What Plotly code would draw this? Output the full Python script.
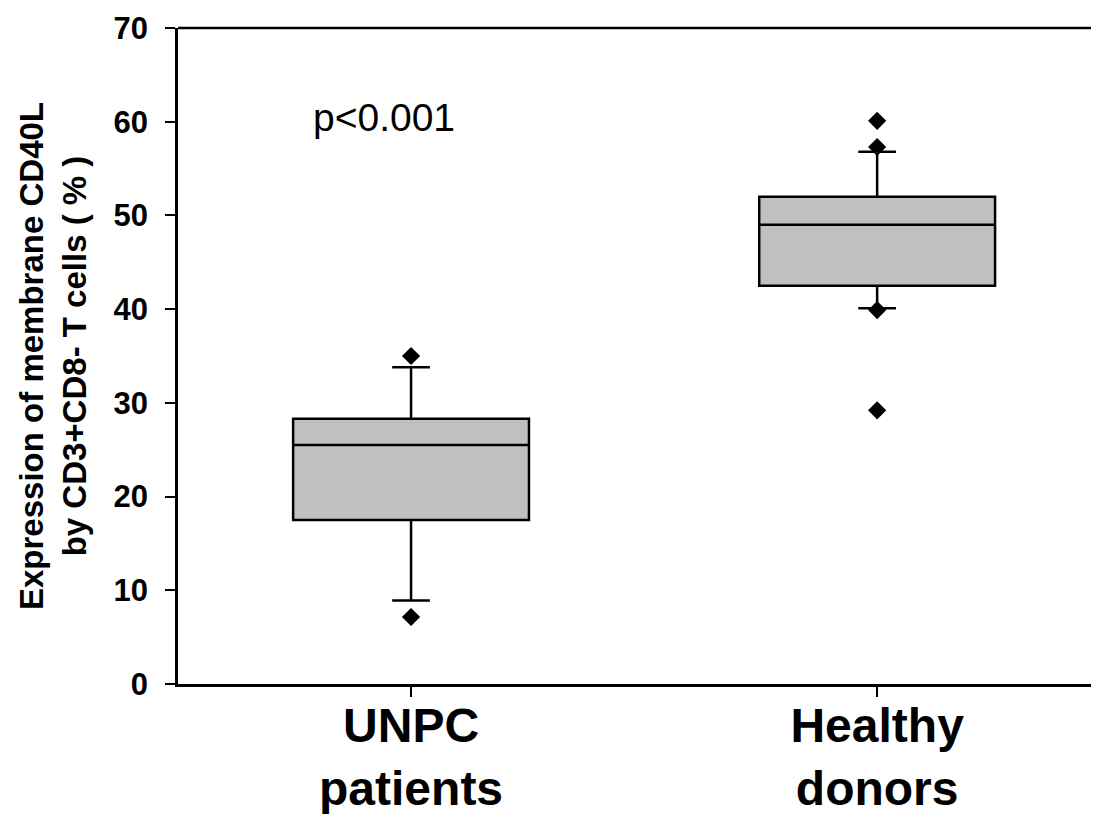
import plotly.graph_objects as go

# Data
groups = ["UNPC<br>patients", "Healthy<br>donors"]
group_pos = [1, 2]
q1 = [17.5, 42.5]
median = [25.5, 49.0]
q3 = [28.3, 52.0]
lowerfence = [8.9, 40.1]
upperfence = [33.8, 56.8]
outlier_x = [1, 1, 2, 2, 2, 2]
outlier_y = [35.0, 7.15, 60.1, 57.3, 39.9, 29.2]
y_ticks = [0, 10, 20, 30, 40, 50, 60, 70]

FONT = "Arial, Liberation Sans, sans-serif"

fig = go.Figure()
fig.add_trace(go.Box(
    x=group_pos, q1=q1, median=median, q3=q3,
    lowerfence=lowerfence, upperfence=upperfence,
    width=0.506, whiskerwidth=0.16,
    fillcolor="#c0c0c0", line=dict(color="black", width=2.5),
    boxpoints=False, showlegend=False,
))
fig.add_trace(go.Scatter(
    x=outlier_x, y=outlier_y, mode="markers",
    marker=dict(symbol="diamond", size=14, color="black"),
    showlegend=False,
))

fig.add_annotation(
    x=0.942, y=60.4, xref="x", yref="y", text="p<0.001", showarrow=False,
    font=dict(family=FONT, size=39, color="black"),
)

fig.add_shape(type="line", xref="paper", yref="paper", x0=0, x1=1, y0=1, y1=1,
              line=dict(color="black", width=2.5))

fig.update_layout(
    width=1091, height=806,
    margin=dict(l=170, r=0, t=20, b=130, autoexpand=False),
    plot_bgcolor="white", paper_bgcolor="white",
    font=dict(family=FONT, color="black"),
    xaxis=dict(
        range=[0.5, 2.476], tickvals=group_pos, ticktext=groups,
        tickfont=dict(family=FONT, size=48, weight="bold", color="black"),
        ticks="outside", ticklen=10, tickwidth=1.5, tickcolor="black",
        ticklabelstandoff=-12,
        showline=True, linewidth=2.5, linecolor="black",
        showgrid=False, zeroline=False, automargin=False,
    ),
    yaxis=dict(
        range=[0, 70], tickvals=y_ticks,
        tickfont=dict(family=FONT, size=31, weight="bold", color="black"),
        ticks="outside", ticklen=10, tickwidth=2, tickcolor="black",
        ticklabelstandoff=11,
        showline=True, linewidth=2.5, linecolor="black",
        showgrid=False, zeroline=False, automargin=False,
        title=dict(text="Expression of membrane CD40L<br>by CD3+CD8- T cells ( % )",
                   font=dict(family=FONT, size=33, weight="bold", color="black"),
                   standoff=18),
    ),
)

fig.write_html("out.html")
